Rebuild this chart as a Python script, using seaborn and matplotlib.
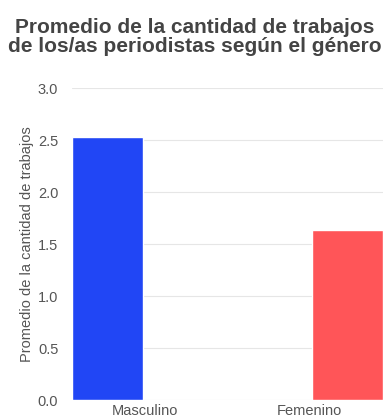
import matplotlib
matplotlib.use("Agg")
import matplotlib.pyplot as plt
import seaborn as sns
import pandas as pd

categories = ["Masculino", "Femenino"]
values = [2.53, 1.64]
colors = ["#2146F5", "#FF5558"]
title = "Promedio de la cantidad de trabajos\nde los/as periodistas según el género"
ylabel = "Promedio de la cantidad de trabajos"

sns.set_theme(style="white")
plt.rcParams['font.family'] = ['Liberation Sans', 'DejaVu Sans']

df = pd.DataFrame({"genero": categories, "valor": values})

fig = plt.figure(figsize=(3.9, 4.18), dpi=100)
ax = fig.add_axes([0.185, 0.043, 0.797, 0.746])
sns.barplot(data=df, x="genero", y="valor", hue="genero", palette=colors,
            saturation=1, width=0.296, legend=False, ax=ax, zorder=3)
ax.set_xlim(-0.148, 1.148)
ax.set_ylim(0, 3.0)
ax.set_yticks([0, 0.5, 1.0, 1.5, 2.0, 2.5, 3.0])
ax.set_yticklabels(["0.0", "0.5", "1.0", "1.5", "2.0", "2.5", "3.0"])
ax.set_xticks([0.154, 0.842])
ax.set_xticklabels(categories)
ax.yaxis.grid(True, color="#e6e6e6", linewidth=0.8, zorder=0)
for s in ax.spines.values():
    s.set_visible(False)
ax.tick_params(axis="both", length=0, labelsize=10.5, colors="#555555")
ax.tick_params(axis="y", pad=10)
ax.tick_params(axis="x", pad=3)
ax.set_xlabel("")
ax.set_ylabel(ylabel, fontsize=10.5, color="#555555", labelpad=3)
fig.text(0.5, 0.957, title, ha="center", va="top", fontsize=15,
         fontweight="bold", color="#444444", linespacing=1.0)
fig.savefig("out.png", dpi=100, facecolor="white")
